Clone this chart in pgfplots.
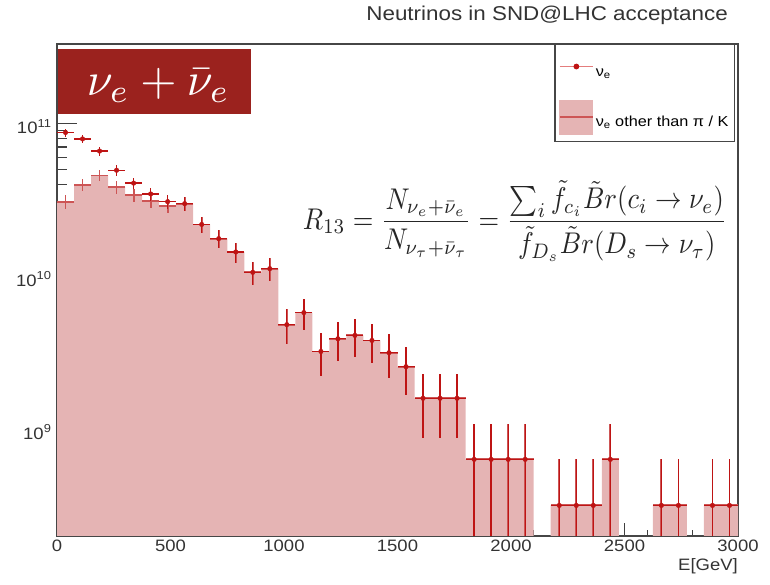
\documentclass[border=0pt]{standalone}
\usepackage{pgfplots}
\pgfplotsset{compat=1.18}
\usepackage{pgfplotstable}
\usepackage{fontspec}
\setmainfont{Liberation Sans}[FakeStretch=1.12]
\definecolor{fillpink}{RGB}{229,180,180}
\definecolor{errred}{RGB}{205,85,85}
\definecolor{ptred}{RGB}{190,20,20}
\definecolor{boxred}{RGB}{155,34,30}
\definecolor{framegray}{RGB}{70,70,70}
\definecolor{legline}{RGB}{228,125,125}

% histogram (bin left edges), nu_e other than pi/K ; empty bins = 1
\pgfplotstableread{
x y
0 3.07e10
75 3.94e10
150 4.55e10
225 3.82e10
300 3.40e10
375 3.12e10
450 2.89e10
525 2.98e10
600 2.18e10
675 1.76e10
750 1.44e10
825 1.06e10
900 1.12e10
975 4.82e9
1050 5.78e9
1125 3.22e9
1200 3.90e9
1275 4.10e9
1350 3.80e9
1425 3.16e9
1500 2.56e9
1575 1.59e9
1650 1.59e9
1725 1.59e9
1800 6.34e8
1875 6.34e8
1950 6.34e8
2025 6.34e8
2100 1
2175 3.17e8
2250 3.17e8
2325 3.17e8
2400 6.34e8
2475 1
2550 1
2625 3.17e8
2700 3.17e8
2775 1
2850 3.17e8
2925 3.17e8
3000 3.17e8
}\histtab

% crosses of the filled histogram
\pgfplotstableread{
x y ex ep em
37.5 3.07e10 37.5 3.12e9 3.12e9
112.5 3.94e10 37.5 3.53e9 3.53e9
187.5 4.55e10 37.5 3.80e9 3.80e9
262.5 3.82e10 37.5 3.48e9 3.48e9
337.5 3.40e10 37.5 3.28e9 3.28e9
412.5 3.12e10 37.5 3.14e9 3.14e9
487.5 2.89e10 37.5 3.03e9 3.03e9
562.5 2.98e10 37.5 3.07e9 3.07e9
637.5 2.18e10 37.5 2.63e9 2.63e9
712.5 1.76e10 37.5 2.36e9 2.36e9
787.5 1.44e10 37.5 2.14e9 2.14e9
862.5 1.06e10 37.5 1.83e9 1.83e9
937.5 1.12e10 37.5 1.88e9 1.88e9
1012.5 4.82e9 37.5 1.24e9 1.24e9
1087.5 5.78e9 37.5 1.35e9 1.35e9
1162.5 3.22e9 37.5 1.01e9 1.01e9
1237.5 3.90e9 37.5 1.11e9 1.11e9
1312.5 4.10e9 37.5 1.14e9 1.14e9
1387.5 3.80e9 37.5 1.10e9 1.10e9
1462.5 3.16e9 37.5 1.00e9 1.00e9
1537.5 2.56e9 37.5 9.0e8 9.0e8
1612.5 1.59e9 37.5 7.1e8 7.1e8
1687.5 1.59e9 37.5 7.1e8 7.1e8
1762.5 1.59e9 37.5 7.1e8 7.1e8
1837.5 6.34e8 37.5 4.48e8 4.48e8
1912.5 6.34e8 37.5 4.48e8 4.48e8
1987.5 6.34e8 37.5 4.48e8 4.48e8
2062.5 6.34e8 37.5 4.48e8 4.48e8
2212.5 3.17e8 37.5 3.17e8 2.17e8
2287.5 3.17e8 37.5 3.17e8 2.17e8
2362.5 3.17e8 37.5 3.17e8 2.17e8
2437.5 6.34e8 37.5 4.48e8 4.48e8
2662.5 3.17e8 37.5 3.17e8 2.17e8
2737.5 3.17e8 37.5 3.17e8 2.17e8
2887.5 3.17e8 37.5 3.17e8 2.17e8
2962.5 3.17e8 37.5 3.17e8 2.17e8
}\othtab

% all nu_e points
\pgfplotstableread{
x y ex ep em
37.5 8.70e10 37.5 5.25e9 5.25e9
112.5 7.90e10 37.5 5.00e9 5.00e9
187.5 6.58e10 37.5 4.57e9 4.57e9
262.5 4.93e10 37.5 3.95e9 3.95e9
337.5 4.06e10 37.5 3.59e9 3.59e9
412.5 3.45e10 37.5 3.31e9 3.31e9
487.5 3.07e10 37.5 3.12e9 3.12e9
562.5 2.98e10 37.5 3.07e9 3.07e9
637.5 2.18e10 37.5 2.63e9 2.63e9
712.5 1.76e10 37.5 2.36e9 2.36e9
787.5 1.44e10 37.5 2.14e9 2.14e9
862.5 1.06e10 37.5 1.83e9 1.83e9
937.5 1.12e10 37.5 1.88e9 1.88e9
1012.5 4.82e9 37.5 1.24e9 1.24e9
1087.5 5.78e9 37.5 1.35e9 1.35e9
1162.5 3.22e9 37.5 1.01e9 1.01e9
1237.5 3.90e9 37.5 1.11e9 1.11e9
1312.5 4.10e9 37.5 1.14e9 1.14e9
1387.5 3.80e9 37.5 1.10e9 1.10e9
1462.5 3.16e9 37.5 1.00e9 1.00e9
1537.5 2.56e9 37.5 9.0e8 9.0e8
1612.5 1.59e9 37.5 7.1e8 7.1e8
1687.5 1.59e9 37.5 7.1e8 7.1e8
1762.5 1.59e9 37.5 7.1e8 7.1e8
1837.5 6.34e8 37.5 4.48e8 4.48e8
1912.5 6.34e8 37.5 4.48e8 4.48e8
1987.5 6.34e8 37.5 4.48e8 4.48e8
2062.5 6.34e8 37.5 4.48e8 4.48e8
2212.5 3.17e8 37.5 3.17e8 2.17e8
2287.5 3.17e8 37.5 3.17e8 2.17e8
2362.5 3.17e8 37.5 3.17e8 2.17e8
2437.5 6.34e8 37.5 4.48e8 4.48e8
2662.5 3.17e8 37.5 3.17e8 2.17e8
2737.5 3.17e8 37.5 3.17e8 2.17e8
2887.5 3.17e8 37.5 3.17e8 2.17e8
2962.5 3.17e8 37.5 3.17e8 2.17e8
}\alltab

\begin{document}
\begin{tikzpicture}
\useasboundingbox (-57pt,-48pt) rectangle (713pt,536pt);
\begin{axis}[
  scale only axis, width=681pt, height=492pt,
  xmin=0, xmax=3000, ymode=log, ymin=2e8, ymax=3.3e11,
  axis line style={framegray, line width=1.1pt},
  tick pos=left, tick align=inside,
  tick style={black!75, line width=1.1pt},
  xtick={0,500,1000,1500,2000,2500,3000},
  xticklabels={0,500,1000,1500,2000,2500,3000},
  minor x tick num=4,
  xtick style={/pgfplots/major tick length=13pt,/pgfplots/minor tick length=6.5pt},
  ytick style={/pgfplots/major tick length=20pt,/pgfplots/minor tick length=10pt},
  ytick={1e9,1e10,1e11},
  yticklabels={10\textsuperscript{9},10\textsuperscript{10},10\textsuperscript{11}},
  minor ytick={2e8,3e8,4e8,5e8,6e8,7e8,8e8,9e8,2e9,3e9,4e9,5e9,6e9,7e9,8e9,9e9,2e10,3e10,4e10,5e10,6e10,7e10,8e10,9e10,2e11,3e11},
  xticklabel style={font=\fontsize{16.5}{18}\selectfont, black!80},
  yticklabel style={font=\fontsize{16.5}{18}\selectfont, black!80, yshift=-3pt, xshift=-2pt},
  xlabel={E[GeV]},
  xlabel style={at={(axis description cs:1,0)}, anchor=north east, yshift=-22pt, font=\fontsize{16.5}{18}\selectfont, black!80, inner sep=0pt},
  title={Neutrinos in SND@LHC acceptance},
  title style={at={(axis description cs:1,1)}, anchor=base east, yshift=17pt, xshift=-10pt, font=\fontsize{20}{24}\selectfont, black!80, inner sep=0pt},
  legend style={at={(0.9956,1)}, anchor=north east, draw=framegray, line width=1.1pt, fill=white,
    font=\fontsize{14.5}{17}\selectfont, row sep=14pt, inner xsep=4pt, inner ysep=7pt},
  legend cell align=left,
]
\addlegendimage{legend image code/.code={\path[draw=none,fill=none] (0pt,-12pt) rectangle (33pt,22pt);
  \draw[legline, line width=1.5pt] (0pt,7pt) -- (33pt,7pt); \fill[ptred] (16.5pt,7pt) circle (2.3pt);}}
\addlegendentry{ν\textsubscript{e}}
\addlegendimage{legend image code/.code={\fill[fillpink] (0pt,-12pt) rectangle (33pt,22pt);
  \draw[errred, line width=1.8pt] (0pt,5pt) -- (33pt,5pt);}}
\addlegendentry{ν\textsubscript{e} other than π / K}

\addplot[ybar interval, fill=fillpink, draw=none, forget plot] table[x=x, y=y] {\histtab};
\addplot[draw=none, mark=none, forget plot,
  error bars/.cd, x dir=both, x explicit, y dir=both, y explicit, error mark=none,
  error bar style={draw=errred, line width=1.8pt}]
  table[x=x, y=y, x error=ex, y error plus=ep, y error minus=em] {\othtab};
\addplot[only marks, mark=*, mark size=2.3pt, color=ptred, forget plot,
  error bars/.cd, x dir=both, x explicit, y dir=both, y explicit, error mark=none,
  error bar style={draw=ptred, line width=1.3pt}]
  table[x=x, y=y, x error=ex, y error plus=ep, y error minus=em] {\alltab};

\node[fill=boxred, minimum width=193pt, minimum height=65pt, inner sep=0pt] at (rel axis cs:0.1432,0.9238) {};
\node[text=white, inner sep=0pt] at (rel axis cs:0.149,0.9157) {\resizebox{143pt}{!}{$\nu_e+\bar{\nu}_e$}};
\node[inner sep=0pt, text=black!85] at (rel axis cs:0.6725,0.6400) {\scalebox{1}[1.13]{\resizebox{424pt}{!}{$\displaystyle R_{13}=\frac{N_{\nu_e+\bar{\nu}_e}}{N_{\nu_\tau+\bar{\nu}_\tau}}=\frac{\sum_i \tilde{f}_{c_i}\tilde{B}r(c_i\to\nu_e)}{\tilde{f}_{D_s}\tilde{B}r(D_s\to\nu_\tau)}$}}};
\end{axis}
\end{tikzpicture}
\end{document}
